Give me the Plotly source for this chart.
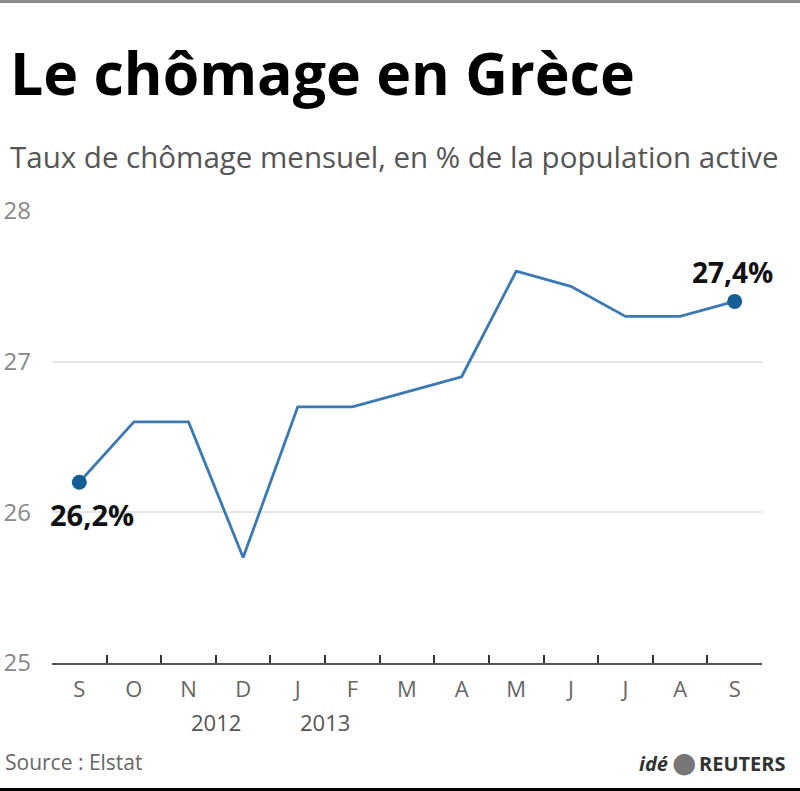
import plotly.graph_objects as go

months = ["S", "O", "N", "D", "J", "F", "M", "A", "M", "J", "J", "A", "S"]
rate = [26.2, 26.6, 26.6, 25.7, 26.7, 26.7, 26.8, 26.9, 27.6, 27.5, 27.3, 27.3, 27.4]
years = ["2012", "2013"]
year_pos = [2.5, 4.5]
y_ticks = [25, 26, 27, 28]

W, H = 800, 791
L, R, T, B = 52, 762, 211, 663
PW, PH = R - L, B - T


def px(p):
    return (p - L) / PW


def py(p):
    return (B - p) / PH


FONT = "Open Sans"
xs = list(range(len(months)))

fig = go.Figure()
fig.add_trace(go.Scatter(x=xs, y=rate, mode="lines",
                         line=dict(color="#3a79b4", width=2.8),
                         hoverinfo="skip", showlegend=False))
ends = [0, len(rate) - 1]
fig.add_trace(go.Scatter(x=[xs[i] for i in ends], y=[rate[i] for i in ends],
                         mode="markers",
                         marker=dict(color="#155f96", size=15),
                         cliponaxis=False, showlegend=False, hoverinfo="skip"))
# empty trace so the boundary-tick axis is drawn
fig.add_trace(go.Scatter(x=[], y=[], xaxis="x2", showlegend=False, hoverinfo="skip"))


def lab(v):
    return f"{v:.1f}%".replace(".", ",")


annotations = [
    dict(x=xs[0], y=rate[0], text=f"<b>{lab(rate[0])}</b>", showarrow=False,
         xshift=13, yshift=-32, font=dict(family=FONT, size=29, color="#111")),
    dict(x=xs[-1], y=rate[-1], text=f"<b>{lab(rate[-1])}</b>", showarrow=False,
         xshift=-2, yshift=29, font=dict(family=FONT, size=28, color="#111")),
]
for yr, pos in zip(years, year_pos):
    annotations.append(dict(x=pos, y=py(722), yref="paper", text=yr, showarrow=False,
                            yanchor="middle",
                            font=dict(family=FONT, size=22, color="#555")))

annotations += [
    dict(x=px(8), y=py(72), xref="paper", yref="paper", xanchor="left", yanchor="middle",
         text="<b>Le chômage en Grèce</b>", showarrow=False,
         font=dict(family=FONT, size=59, color="#000")),
    dict(x=px(8), y=py(157), xref="paper", yref="paper", xanchor="left", yanchor="middle",
         text="Taux de chômage mensuel, en % de la population active", showarrow=False,
         font=dict(family=FONT, size=29.5, color="#555")),
    dict(x=px(3), y=py(762), xref="paper", yref="paper", xanchor="left", yanchor="middle",
         text="Source : Elstat", showarrow=False,
         font=dict(family=FONT, size=21, color="#666")),
    dict(x=px(670), y=py(763), xref="paper", yref="paper", xanchor="right", yanchor="middle",
         text="<b><i>idé</i></b>", showarrow=False,
         font=dict(family=FONT, size=20, color="#333")),
    dict(x=px(684), y=py(762), xref="paper", yref="paper", xanchor="center", yanchor="middle",
         text="●", showarrow=False,
         font=dict(family="DejaVu Sans", size=28, color="#777")),
    dict(x=px(697), y=py(763), xref="paper", yref="paper", xanchor="left", yanchor="middle",
         text="<b>REUTERS</b>", showarrow=False,
         font=dict(family=FONT, size=20, color="#333")),
]

shapes = [
    dict(type="rect", xref="paper", yref="paper", x0=px(0), x1=px(W), y0=py(3), y1=py(0),
         fillcolor="#8a8a8a", line=dict(width=0), layer="above"),
    dict(type="rect", xref="paper", yref="paper", x0=px(0), x1=px(W), y0=py(H), y1=py(788),
         fillcolor="#000", line=dict(width=0), layer="above"),
]

fig.update_layout(
    width=W, height=H,
    margin=dict(l=L, r=W - R, t=T, b=H - B),
    paper_bgcolor="white", plot_bgcolor="white",
    showlegend=False,
    xaxis=dict(range=[-0.5, len(months) - 0.5], tickmode="array", tickvals=xs, ticktext=months,
               ticks="", showgrid=False, zeroline=False, showline=True, automargin=False,
               linecolor="#555", linewidth=1.5,
               tickfont=dict(family=FONT, size=22, color="#666"), ticklabelstandoff=6),
    xaxis2=dict(range=[-0.5, len(months) - 0.5], overlaying="x", anchor="y", side="bottom",
                tickmode="array", tickvals=[i - 0.5 for i in range(len(months) + 1)],
                ticks="inside", ticklen=8, tickwidth=2, tickcolor="#333", automargin=False,
                showticklabels=False, showgrid=False, zeroline=False, showline=False),
    yaxis=dict(range=[25, 28], tickmode="array", tickvals=y_ticks, showgrid=True,
               gridcolor="#e6e6e6", gridwidth=1.5, zeroline=False, ticks="", automargin=False,
               tickfont=dict(family=FONT, size=24, color="#888"), ticklabelstandoff=20),
    annotations=annotations,
    shapes=shapes,
)

fig.write_html("out.html")
